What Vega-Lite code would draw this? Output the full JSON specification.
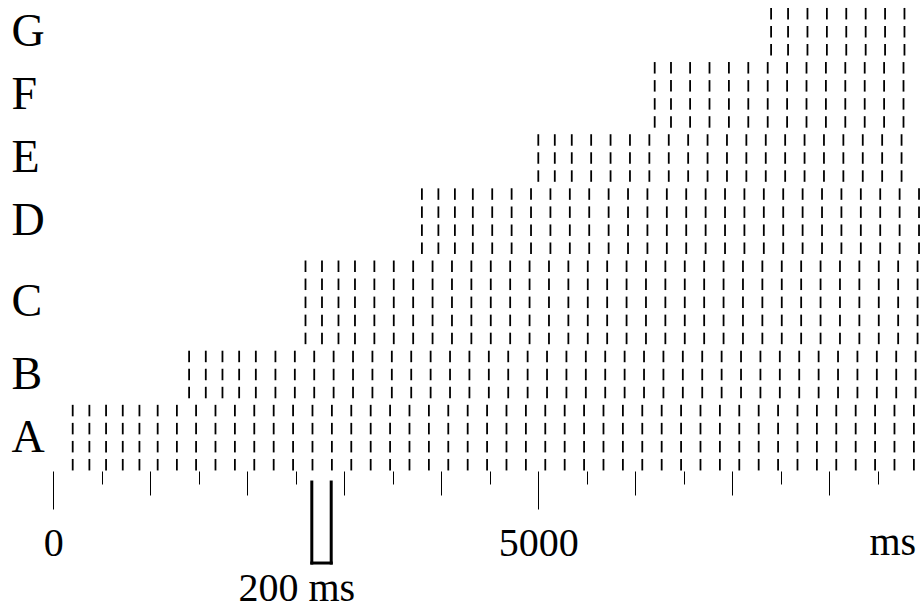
{
  "$schema": "https://vega.github.io/schema/vega-lite/v6.json",
  "width": 920,
  "height": 471,
  "autosize": {"type": "none"},
  "padding": {"left": 0, "top": 0, "right": 0, "bottom": 143},
  "background": "white",
  "config": {"view": {"stroke": null}, "font": "Liberation Serif"},
  "datasets": {
    "trains": [
      {"group": "A", "lanes": [0, 1, 2, 3], "times": [200, 372, 544, 716, 888, 1076, 1274, 1472, 1672, 1872, 2072, 2272, 2472, 2672, 2872, 3072, 3272, 3472, 3672, 3872, 4072, 4272, 4472, 4672, 4872, 5072, 5272, 5472, 5672, 5872, 6072, 6272, 6472, 6672, 6872, 7072, 7272, 7472, 7672, 7872, 8072, 8272, 8472, 8672, 8872]},
      {"group": "B", "lanes": [4, 5, 6], "times": [1400, 1572, 1744, 1916, 2088, 2290, 2490, 2690, 2890, 3090, 3290, 3490, 3690, 3890, 4090, 4290, 4490, 4690, 4890, 5090, 5290, 5490, 5690, 5890, 6090, 6290, 6490, 6690, 6890, 7090, 7290, 7490, 7690, 7890, 8090, 8290, 8490, 8690, 8890]},
      {"group": "C", "lanes": [7, 8, 9, 10, 11], "times": [2600, 2770, 2940, 3110, 3310, 3510, 3710, 3910, 4110, 4310, 4510, 4710, 4910, 5110, 5310, 5510, 5710, 5910, 6110, 6310, 6510, 6710, 6910, 7110, 7310, 7510, 7710, 7910, 8110, 8310, 8510, 8710, 8910]},
      {"group": "D", "lanes": [12, 13, 14, 15], "times": [3800, 3970, 4140, 4325, 4525, 4725, 4925, 5125, 5325, 5525, 5725, 5925, 6125, 6325, 6525, 6725, 6925, 7125, 7325, 7525, 7725, 7925, 8125, 8325, 8525, 8725, 8925]},
      {"group": "E", "lanes": [16, 17, 18], "times": [5000, 5170, 5345, 5545, 5745, 5945, 6145, 6345, 6545, 6745, 6945, 7145, 7345, 7545, 7745, 7945, 8145, 8345, 8545, 8745]},
      {"group": "F", "lanes": [19, 20, 21, 22], "times": [6200, 6368, 6565, 6765, 6965, 7165, 7365, 7565, 7765, 7965, 8165, 8365, 8565, 8765]},
      {"group": "G", "lanes": [23, 24, 25], "times": [7400, 7575, 7775, 7975, 8175, 8375, 8575, 8775]}
    ],
    "scalebar": [{"start": 2665, "end": 2865, "label": "200 ms"}]
  },
  "layer": [
    {
      "data": {"name": "trains"},
      "transform": [{"flatten": ["lanes"]}, {"flatten": ["times"]}],
      "mark": {"type": "tick", "orient": "vertical", "size": 11.5, "thickness": 1.8, "color": "black", "opacity": 1},
      "encoding": {
        "x": {
          "field": "times",
          "type": "quantitative",
          "scale": {"domain": [-549.5, 8935.1], "nice": false, "zero": false},
          "axis": {
            "orient": "bottom",
            "title": null,
            "values": [0, 500, 1000, 1500, 2000, 2500, 3000, 3500, 4000, 4500, 5000, 5500, 6000, 6500, 7000, 7500, 8000, 8500],
            "domain": false,
            "grid": false,
            "tickColor": "black",
            "tickWidth": 1,
            "tickSize": {"condition": [{"test": "datum.value % 5000 === 0", "value": 38}, {"test": "datum.value % 1000 === 0", "value": 24}], "value": 13},
            "format": "d",
            "labelExpr": "datum.value % 5000 === 0 ? datum.label : ''",
            "labelFont": "Liberation Serif",
            "labelFontSize": 40,
            "labelColor": "black",
            "labelPadding": 14,
            "labelBaseline": "top",
            "labelOverlap": false,
            "labelFlush": false
          }
        },
        "y": {
          "field": "lanes",
          "type": "quantitative",
          "scale": {"domain": [-0.349, 25.759], "nice": false, "zero": false},
          "axis": null
        }
      }
    },
    {
      "data": {"name": "trains"},
      "transform": [
        {"flatten": ["lanes"]},
        {"aggregate": [{"op": "mean", "field": "lanes", "as": "center"}], "groupby": ["group"]}
      ],
      "mark": {"type": "text", "align": "left", "baseline": "middle", "fontSize": 46, "font": "Liberation Serif", "color": "black"},
      "encoding": {
        "x": {"datum": -431},
        "y": {"field": "center", "type": "quantitative"},
        "text": {"field": "group"}
      }
    },
    {
      "data": {"values": [{"unit": "ms"}]},
      "mark": {"type": "text", "align": "center", "baseline": "alphabetic", "fontSize": 40, "font": "Liberation Serif", "color": "black"},
      "encoding": {
        "x": {"datum": 8655},
        "y": {"datum": -5},
        "text": {"field": "unit"}
      }
    },
    {
      "data": {"name": "scalebar"},
      "layer": [
        {
          "mark": {"type": "rule", "strokeWidth": 3, "strokeCap": "square", "color": "black"},
          "encoding": {"x": {"field": "start", "type": "quantitative"}, "y": {"datum": -0.96}, "y2": {"datum": -5.45}}
        },
        {
          "mark": {"type": "rule", "strokeWidth": 3, "strokeCap": "square", "color": "black"},
          "encoding": {"x": {"field": "end", "type": "quantitative"}, "y": {"datum": -0.96}, "y2": {"datum": -5.45}}
        },
        {
          "mark": {"type": "rule", "strokeWidth": 3, "strokeCap": "square", "color": "black"},
          "encoding": {"x": {"field": "start", "type": "quantitative"}, "x2": {"field": "end"}, "y": {"datum": -5.45}}
        },
        {
          "mark": {"type": "text", "align": "center", "baseline": "alphabetic", "fontSize": 40, "font": "Liberation Serif", "color": "black", "dx": -15},
          "encoding": {"x": {"field": "start", "type": "quantitative"}, "y": {"datum": -7.56}, "text": {"field": "label"}}
        }
      ]
    }
  ]
}
